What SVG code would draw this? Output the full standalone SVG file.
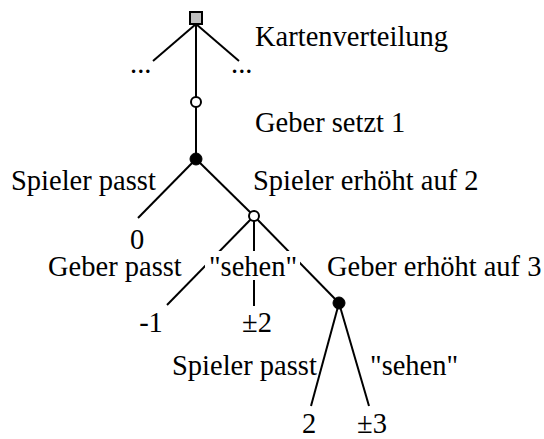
<svg xmlns="http://www.w3.org/2000/svg" width="544" height="439" viewBox="0 0 544 439">
<style>
  text { font-family: "Liberation Serif", "Times New Roman", serif; font-size: 28.5px; fill: #000; }
  .edge { stroke: #000; stroke-width: 2; fill: none; }
  .open { fill: #fff; stroke: #000; stroke-width: 2; }
  .filled { fill: #000; stroke: #000; stroke-width: 1; }
  .chance { fill: #c0c0c0; stroke: #000; stroke-width: 2; }
</style>
<rect width="544" height="439" fill="#fff"/>
<g id="connectors">
  <line class="edge" x1="196" y1="24" x2="153" y2="61"/>
  <line class="edge" x1="196" y1="24" x2="239" y2="61"/>
  <line class="edge" x1="196" y1="24" x2="196" y2="102"/>
  <line class="edge" x1="196" y1="102" x2="196" y2="159"/>
  <line class="edge" x1="196" y1="159" x2="138" y2="218"/>
  <line class="edge" x1="196" y1="159" x2="254" y2="216"/>
  <line class="edge" x1="254" y1="216" x2="167" y2="305"/>
  <line class="edge" x1="254" y1="216" x2="254" y2="306"/>
  <line class="edge" x1="254" y1="216" x2="339" y2="303"/>
  <line class="edge" x1="339" y1="303" x2="311" y2="406"/>
  <line class="edge" x1="339" y1="303" x2="369" y2="406"/>
</g>
<g id="root">
  <rect class="chance" x="190" y="12" width="12" height="12"/>
  <text x="255" y="46">Kartenverteilung</text>
</g>
<g id="more-left"><text x="130" y="73">...</text></g>
<g id="more-right"><text x="231" y="73">...</text></g>
<g id="geber1">
  <circle class="open" cx="196" cy="102" r="5"/>
  <text x="255" y="132">Geber setzt 1</text>
</g>
<g id="spieler1">
  <circle class="filled" cx="196" cy="159" r="6"/>
  <text x="11" y="190">Spieler passt</text>
  <text x="253" y="190">Spieler erhöht auf 2</text>
</g>
<g id="leaf0"><text x="137" y="249" text-anchor="middle">0</text></g>
<g id="geber2">
  <circle class="open" cx="254" cy="216" r="5"/>
  <text x="48" y="276">Geber passt</text>
  <rect x="205" y="251" width="95" height="29" fill="#fff"/>
  <text x="253" y="276" text-anchor="middle">"sehen"</text>
  <text x="327" y="276">Geber erhöht auf 3</text>
</g>
<g id="leaf-1"><text x="151" y="332" text-anchor="middle">-1</text></g>
<g id="leaf-pm2"><text x="257" y="332" text-anchor="middle">±2</text></g>
<g id="spieler2">
  <circle class="filled" cx="339" cy="303" r="6"/>
  <text x="172" y="375">Spieler passt</text>
  <text x="370" y="375">"sehen"</text>
</g>
<g id="leaf2"><text x="309" y="433" text-anchor="middle">2</text></g>
<g id="leaf-pm3"><text x="372" y="433" text-anchor="middle">±3</text></g>
</svg>
